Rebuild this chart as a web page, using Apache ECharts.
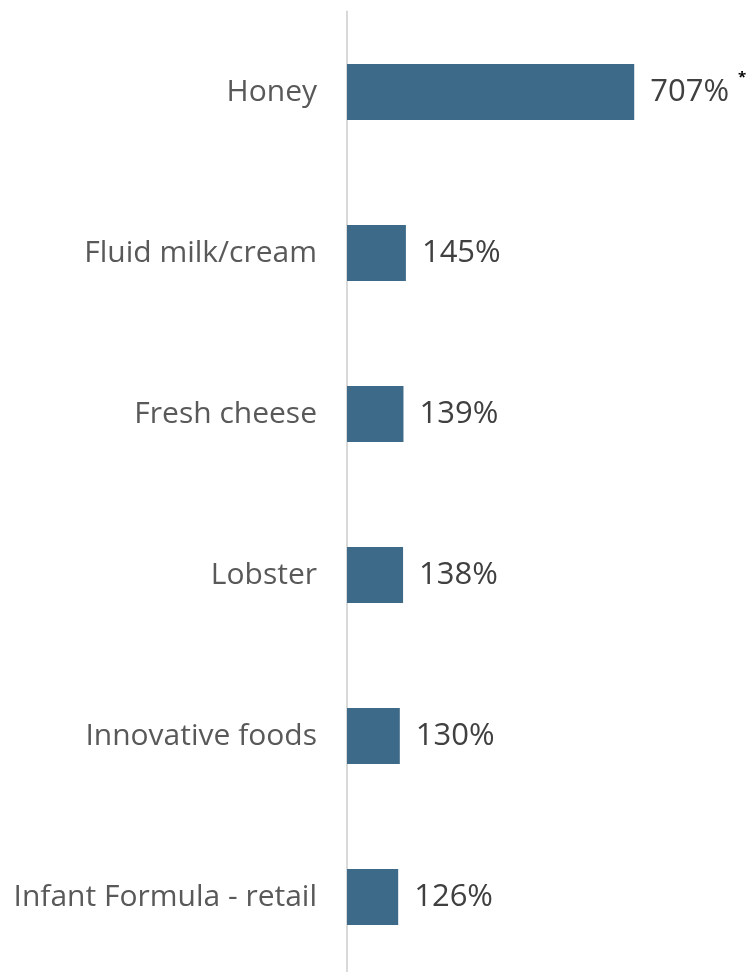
<!DOCTYPE html>
<html><head><meta charset="utf-8">
<script src="https://cdn.jsdelivr.net/npm/echarts@6/dist/echarts.min.js"></script>
<style>html,body{margin:0;padding:0;background:#fff}#c{width:753px;height:972px}</style>
</head><body><div id="c"></div>
<script>
const categories = ["Honey", "Fluid milk/cream", "Fresh cheese", "Lobster", "Innovative foods", "Infant Formula - retail"];
const values = [707, 145, 139, 138, 130, 126];
const notes = ["*", "", "", "", "", ""];

const chart = echarts.init(document.getElementById('c'));
chart.setOption({
  animation: false,
  grid: { left: 347, width: 325, top: 11.5, height: 966, containLabel: false, outerBoundsMode: 'none' },
  xAxis: { type: 'value', min: 0, max: 800, show: false },
  yAxis: {
    type: 'category', data: categories, inverse: true,
    axisLine: { show: true, lineStyle: { color: '#d9d9d9', width: 2 } },
    axisTick: { show: false },
    axisLabel: { color: '#595959', fontFamily: 'Open Sans', fontSize: 30, margin: 30 }
  },
  series: [{
    type: 'bar', data: values, barWidth: 56,
    itemStyle: { color: '#3d6a88' },
    label: {
      show: true, position: 'right', distance: 16,
      formatter: p => '{v|' + p.value + '%}' + (notes[p.dataIndex] ? '{s|' + notes[p.dataIndex] + '}' : ''),
      rich: {
        v: { color: '#404040', fontFamily: 'Open Sans', fontSize: 31, lineHeight: 44 },
        s: { color: '#000', fontFamily: 'Open Sans', fontSize: 15, fontWeight: 'bold', lineHeight: 44, verticalAlign: 'top', padding: [0, 0, 0, 9] }
      }
    }
  }]
});
</script></body></html>
